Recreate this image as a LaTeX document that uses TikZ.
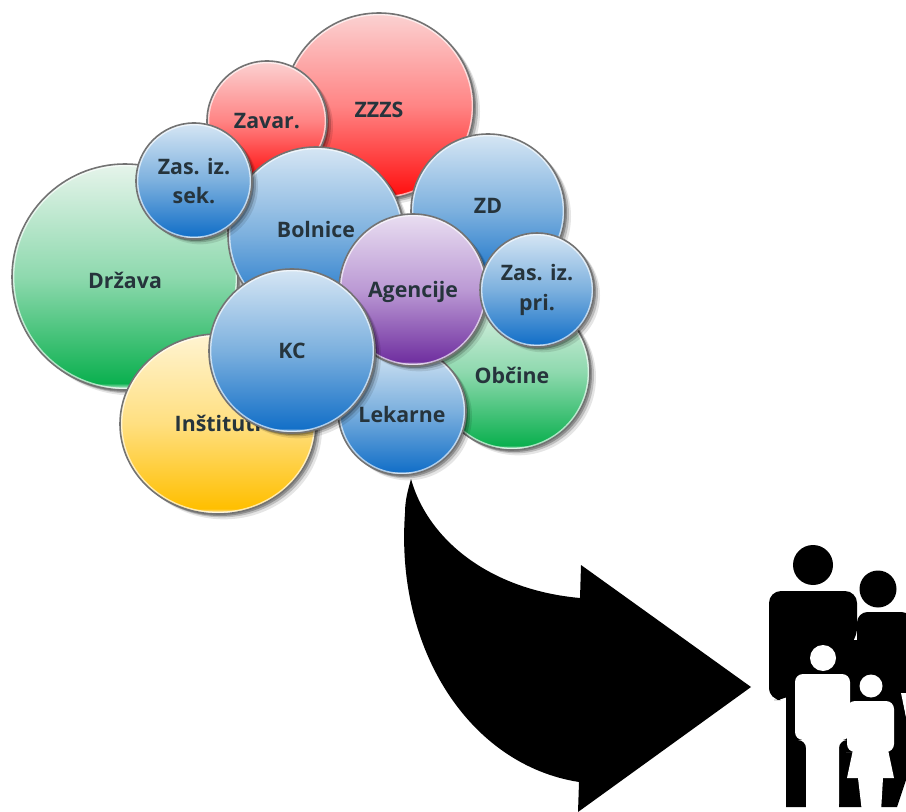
\documentclass[tikz,border=0pt]{standalone}
\usepackage{fontspec}
\setmainfont{Open Sans}
\usetikzlibrary{shapes.geometric,shadows}

% vertical fills of the bubbles: bottom, middle, top
\newcommand{\bubblefill}[4]{%
  \pgfdeclareverticalshading{#1}{100bp}{%
    color(0bp)=(white); color(25bp)=(white); color(26.5bp)=(#2); color(50bp)=(#3); color(75bp)=(#4); color(100bp)=(#4)}}
\definecolor{redlow}{HTML}{FF1212}
\definecolor{redmid}{HTML}{FF8484}
\definecolor{redtop}{HTML}{FBD2D2}
\definecolor{bluelow}{HTML}{1470C8}
\definecolor{bluemid}{HTML}{7CB0DE}
\definecolor{bluetop}{HTML}{D6E6F4}
\definecolor{greenlow}{HTML}{0BB04F}
\definecolor{greenmid}{HTML}{8ED9AE}
\definecolor{greentop}{HTML}{E6F4EB}
\definecolor{yellowlow}{HTML}{FFBF00}
\definecolor{yellowmid}{HTML}{FFDF80}
\definecolor{yellowtop}{HTML}{FFF4D2}
\definecolor{purplelow}{HTML}{7030A0}
\definecolor{purplemid}{HTML}{BB99D4}
\definecolor{purpletop}{HTML}{E9DEF1}
\definecolor{labeltext}{HTML}{26343C}
\bubblefill{redbubble}{redlow}{redmid}{redtop}
\bubblefill{bluebubble}{bluelow}{bluemid}{bluetop}
\bubblefill{greenbubble}{greenlow}{greenmid}{greentop}
\bubblefill{yellowbubble}{yellowlow}{yellowmid}{yellowtop}
\bubblefill{purplebubble}{purplelow}{purplemid}{purpletop}

\tikzset{
  bubble/.style n args={3}{ellipse,shading=#1,inner sep=0pt,align=center,
    minimum width=#2*1.5pt,minimum height=#3*1.5pt,
    draw=black!55,line width=1.2pt,text=labeltext,
    font=\fontsize{16}{22}\selectfont\bfseries,
    drop shadow={shadow xshift=4.5pt,shadow yshift=-4pt,fill=black,opacity=.10},
    drop shadow={shadow xshift=3pt,shadow yshift=-2.5pt,fill=black,opacity=.18},
    drop shadow={shadow xshift=1.5pt,shadow yshift=-1.5pt,fill=black,opacity=.25},
    path picture={\draw[white,opacity=.65,line width=3.5pt]
      (path picture bounding box.center) ellipse ({#2*.75pt} and {#3*.75pt});}},
  lower/.style={text height=17pt,text depth=0pt},
  upper/.style={text height=11.5pt,text depth=7pt},
  level/.style={text height=11.5pt,text depth=0pt},
  solidpart/.style={fill=black,draw=none},
  whitepart/.style={fill=white,draw=none}
}

\begin{document}
\begin{tikzpicture}[x=0.75pt,y=-0.75pt]
    \useasboundingbox (0,0) rectangle (906,812);

    % Bubbles, back to front
    \node[bubble={redbubble}{95}{93},lower] (zzzs) at (379,106) {ZZZS};
    \node[bubble={redbubble}{60}{60},level] (zavar) at (267,121) {Zavar.};
    \node[bubble={greenbubble}{113}{113},lower] (drzava) at (125,277) {Država};
    \node[bubble={bluebubble}{88}{88},upper] (bolnice) at (316,235) {Bolnice};
    \node[bubble={bluebubble}{77}{77},upper] (zd) at (488,211) {ZD};
    \node[bubble={yellowbubble}{98}{90},level] (institut) at (218,424) {Inštituti};
    \node[bubble={bluebubble}{58}{58}] (zassek) at (194,181) {Zas. iz.\\sek.};
    \node[bubble={greenbubble}{78}{78},lower] (obcine) at (512,372) {Občine};
    \node[bubble={bluebubble}{64}{64},lower] (lekarne) at (402,411) {Lekarne};
    \node[bubble={purplebubble}{74}{76},level] (agencije) at (413,290) {Agencije};
    \node[bubble={bluebubble}{57}{57}] (zaspri) at (537,290) {Zas. iz.\\pri.};
    \node[bubble={bluebubble}{83}{82},level] (kc) at (292,351) {KC};

    % Big arrow
    \fill (411,479) .. controls (428,540) and (490,590) .. (580,598)
        -- (581,565) -- (751,687) -- (578,812) -- (579,782)
        .. controls (470,765) and (395,650) .. (405,513)
        .. controls (405,500) and (408,490) .. (411,479) -- cycle;

    % Family, the two adults
    \fill[solidpart] (813,565) circle (20);
    \fill[solidpart] (878,589) circle (18.5);
    \fill[solidpart,rounded corners=9] (769,700) -- (769,591) -- (857,591) -- (857,640) -- (786,700) -- cycle;
    \fill[solidpart,rounded corners=8] (857,640) -- (857,612) -- (912,612) -- (912,700) -- (857,700) -- cycle;
    \fill[solidpart] (786,640) rectangle (906,700);
    \fill[solidpart,rounded corners=8] (769,660) -- (769,698) -- (786,698) -- (786,660) -- cycle;
    \fill[solidpart] (786,690) -- (901,690) -- (906,717) -- (906,780) -- (897,807) -- (786,807) -- cycle;
    \fill[whitepart] (901,693) -- (906,693) -- (906,717) -- cycle;

    % Family, the two children
    \fill[whitepart] (823,658) circle (13);
    \fill[whitepart] (871,686) circle (11.5);
    \fill[whitepart,rounded corners=6] (795,740) -- (795,674) -- (850,674) -- (850,740) -- (839,740) -- (839,812) -- (806,812) -- (806,740) -- cycle;
    \fill[whitepart] (806,735) rectangle (839,812);
    \fill[whitepart,rounded corners=6] (847,752) -- (847,701) -- (894,701) -- (894,752) -- (854,752) -- cycle;
    \fill[whitepart] (854,745) -- (887,745) -- (894,778) -- (883,778) -- (881,812) -- (862,812) -- (858,778) -- (847,778) -- cycle;
\end{tikzpicture}
\end{document}
